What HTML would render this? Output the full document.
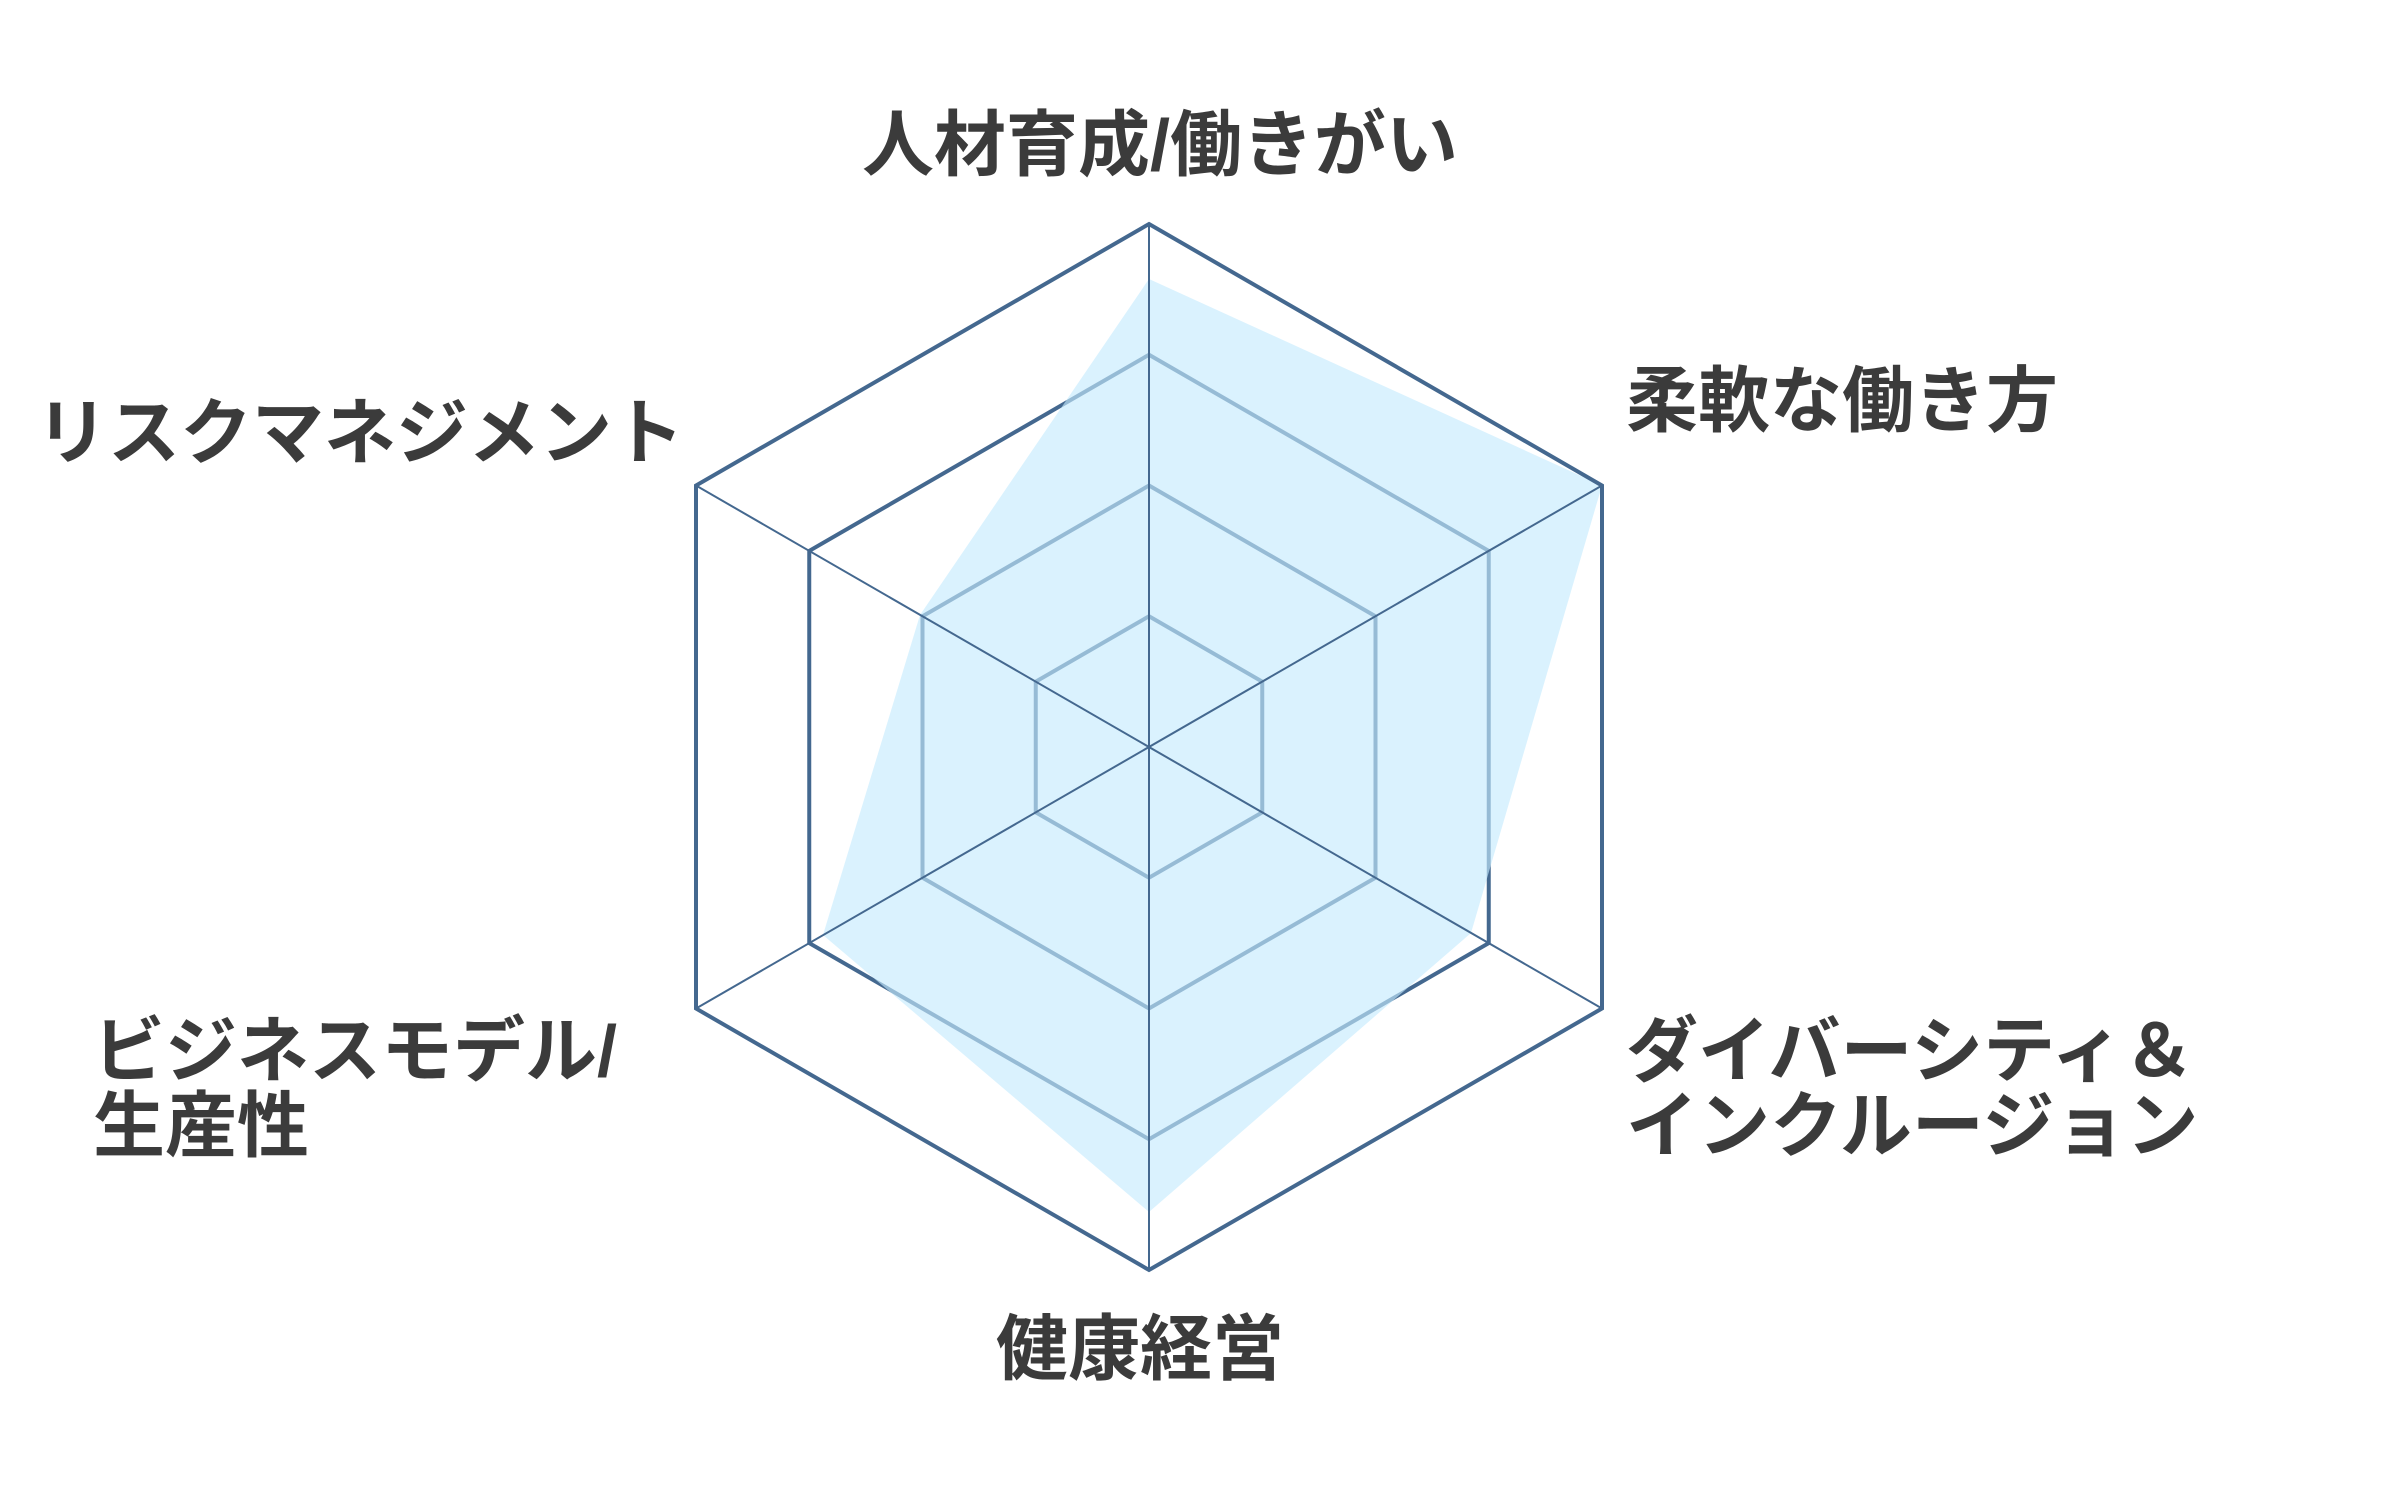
<!DOCTYPE html>
<html><head><meta charset="utf-8"><style>
html,body{margin:0;padding:0;background:#fff;}
svg{display:block;}
text{font-family:"Liberation Sans","Noto Sans CJK JP",sans-serif;font-weight:bold;fill:#3b3b3b;font-size:72px;dominant-baseline:central;}
</style></head><body>
<svg width="2381" height="1510" viewBox="0 0 2381 1510" xmlns="http://www.w3.org/2000/svg">
<g transform="translate(-6,0)">
<g fill="none" stroke="#44688f" stroke-width="4">
<polygon points="1155,616.25 1268.25,681.6 1268.25,812.4 1155,877.75 1041.75,812.4 1041.75,681.6"/>
<polygon points="1155,485.5 1381.5,616.25 1381.5,877.75 1155,1008.5 928.5,877.75 928.5,616.25"/>
<polygon points="1155,354.75 1494.75,550.9 1494.75,943.1 1155,1139.25 815.25,943.1 815.25,550.9"/>
</g>
<polygon points="1155,279 1608,485.5 1477,933 1155,1212 829,935 926,615" fill="#c5ebfd" fill-opacity="0.64"/>
<g stroke="#44688f" stroke-width="2">
<line x1="1155" y1="224" x2="1155" y2="1270"/>
<line x1="702" y1="485.5" x2="1608" y2="1008.5"/>
<line x1="1608" y1="485.5" x2="702" y2="1008.5"/>
</g>
<polygon points="1155,224 1608,485.5 1608,1008.5 1155,1270 702,1008.5 702,485.5" fill="none" stroke="#44688f" stroke-width="4"/>
</g>
<text x="1160" y="146" text-anchor="middle">人材育成/働きがい</text>
<text x="1626" y="402">柔軟な働き方</text>
<text x="36" y="434">リスクマネジメント</text>
<text x="1626" y="1052">ダイバーシティ＆</text>
<text x="1626" y="1127">インクルージョン</text>
<text x="93" y="1052">ビジネスモデル/</text>
<text x="93" y="1127">生産性</text>
<text x="1140" y="1350" text-anchor="middle">健康経営</text>
</svg>
</body></html>
